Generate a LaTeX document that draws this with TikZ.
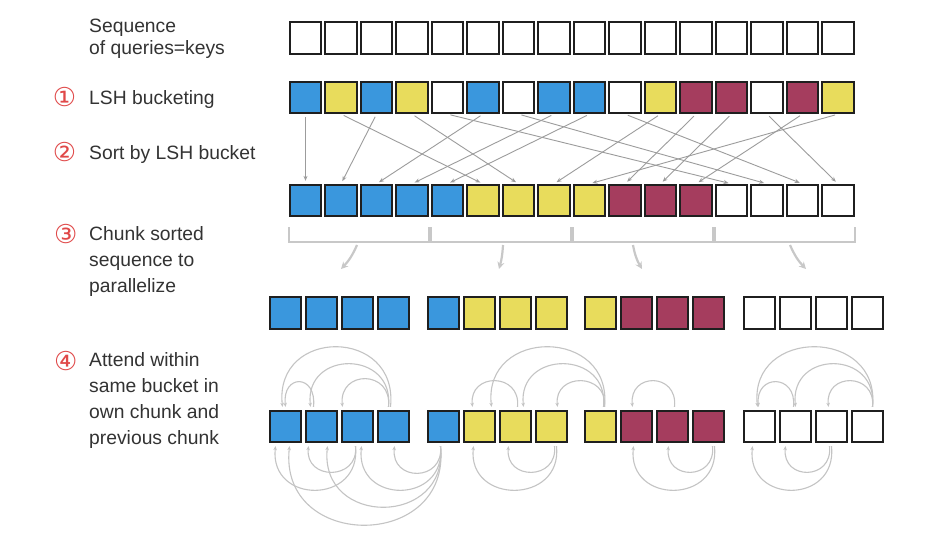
\documentclass[tikz,border=0pt]{standalone}
\usepackage{fontspec}
\setmainfont{Liberation Sans}
\newfontfamily\circfont{DejaVu Sans}
\usetikzlibrary{arrows.meta,calc}
\definecolor{qblue}{HTML}{3A97DD}
\definecolor{qyel}{HTML}{E8DC5C}
\definecolor{qmar}{HTML}{A53D5E}
\definecolor{qwh}{HTML}{FFFFFF}
\definecolor{txt}{HTML}{333333}
\definecolor{numred}{HTML}{E04848}
\definecolor{arrg}{HTML}{9C9C9C}
\definecolor{arcg}{HTML}{C4C4C4}
\definecolor{brkg}{HTML}{C8C8C8}
\newcommand\attT[5]{\draw[att] ([xshift=#2pt,yshift=3pt]e#1.north) .. controls +({0.14*#5},{-1.33*#5}) and +({-0.14*#5},{-1.33*#5}) .. ([xshift=#4pt,yshift=3pt]e#3.north);}
\newcommand\attB[5]{\draw[att] ([xshift=#2pt,yshift=-3pt]e#1.south) .. controls +({0.14*#5},{1.33*#5}) and +({-0.14*#5},{1.33*#5}) .. ([xshift=#4pt,yshift=-3pt]e#3.south);}
\begin{document}
\begin{tikzpicture}[x=1pt,y=-1pt,
 cell/.style={draw=black!88,line width=1.8pt,minimum width=31.5pt,minimum height=31.5pt,inner sep=0pt},
 lbl/.style={anchor=base west,inner sep=0pt,text=txt,font=\fontsize{19.3}{26}\selectfont},
 num/.style={inner sep=0pt,text=numred,font=\circfont\fontsize{26}{26}\selectfont},
 sortarr/.style={draw=arrg,line width=0.9pt,-{Stealth[length=5pt,width=4pt]},shorten <=3pt,shorten >=3pt},
 brk/.style={draw=brkg,line width=2pt},
 chunkarr/.style={draw=brkg,line width=2.2pt,-{Stealth[length=7pt,width=7pt]}},
 att/.style={draw=arcg,line width=1.1pt,-{Stealth[length=4pt,width=3.5pt]}}
]
\useasboundingbox (0,0) rectangle (947,548);
\fill[white] (0,0) rectangle (947,548);

% labels
\node[lbl] (l1a) at (89,33) {Sequence};
\node[lbl] (l1b) at (89,55) {of queries=keys};
\node[lbl] (l2) at (89,105) {LSH bucketing};
\node[lbl] (l3) at (89,160) {Sort by LSH bucket};
\node[lbl] (l4a) at (89,240.7) {Chunk sorted};
\node[lbl] (l4b) at (89,266.7) {sequence to};
\node[lbl] (l4c) at (89,292.7) {parallelize};
\node[lbl] (l5a) at (89,366.7) {Attend within};
\node[lbl] (l5b) at (89,392.7) {same bucket in};
\node[lbl] (l5c) at (89,418.5) {own chunk and};
\node[lbl] (l5d) at (89,444.3) {previous chunk};
\node[num] (n1) at (64.5,96.7) {①};
\node[num] (n2) at (64.5,151.7) {②};
\node[num] (n3) at (65.7,234) {③};
\node[num] (n4) at (65.7,361) {④};

% rows
\foreach \i in {0,...,15} \node[cell,fill=white] (a\i) at ({305.5+35.5*\i},38) {};
\foreach \c [count=\i from 0] in {qblue,qyel,qblue,qyel,qwh,qblue,qwh,qblue,qblue,qwh,qyel,qmar,qmar,qwh,qmar,qyel}
  \node[cell,fill=\c] (b\i) at ({305.5+35.5*\i},97.5) {};
\foreach \c [count=\i from 0] in {qblue,qblue,qblue,qblue,qblue,qyel,qyel,qyel,qyel,qmar,qmar,qmar,qwh,qwh,qwh,qwh}
  \node[cell,fill=\c] (c\i) at ({305.5+35.5*\i},200.5) {};
\foreach \c/\x [count=\i from 0] in {qblue/285.5,qblue/321.5,qblue/357.5,qblue/393.5,qblue/443.5,qyel/479.5,qyel/515.5,qyel/551.5,qyel/600.5,qmar/636.5,qmar/672.5,qmar/708.5,qwh/759.5,qwh/795.5,qwh/831.5,qwh/867.5}
  {\node[cell,fill=\c] (d\i) at (\x,313) {};
   \node[cell,fill=\c] (e\i) at (\x,426.5) {};}

% sort arrows
\foreach \i/\j in {0/0,1/5,2/1,3/6,4/12,5/2,6/13,7/3,8/4,9/14,10/7,11/9,12/10,13/15,14/11,15/8}
  \draw[sortarr] (b\i.south) -- (c\j.north);

% brackets
\foreach \g in {0,...,3}{
  \pgfmathtruncatemacro\l{4*\g}
  \pgfmathtruncatemacro\r{4*\g+3}
  \draw[brk] ([yshift=-10pt]c\l.south west) -- ([yshift=-25pt]c\l.south west) -- ([yshift=-25pt]c\r.south east) -- ([yshift=-10pt]c\r.south east);
}
\coordinate (s0) at (357,245);
\coordinate (t0) at (341,269);
\coordinate (s1) at (503,245);
\coordinate (t1) at (499,269);
\coordinate (s2) at (633,245);
\coordinate (t2) at (642,269);
\coordinate (s3) at (790,245);
\coordinate (t3) at (806,269);
\draw[chunkarr] (s0) to[bend left=10] (t0);
\draw[chunkarr] (s1) to[bend left=6] (t1);
\draw[chunkarr] (s2) to[bend right=10] (t2);
\draw[chunkarr] (s3) to[bend right=10] (t3);

% attention arcs above
\attT{1}{-8}{0}{0}{25}
\attT{3}{-5}{2}{-15}{28}
\attT{3}{-5}{1}{-11}{43}
\attT{3}{-3}{0}{-3}{60}
\attT{6}{2}{5}{-7}{26}
\attT{8}{4}{5}{12}{60}
\attT{8}{3}{6}{8}{43}
\attT{8}{4}{7}{6}{26}
\attT{10}{2}{9}{-4}{26}
\attT{13}{-2}{12}{-1}{25}
\attT{15}{5}{12}{-2}{60}
\attT{15}{5}{13}{0}{43}
\attT{15}{5}{14}{-3}{26}
% attention arcs below
\attB{2}{-2}{0}{-10}{44}
\attB{2}{-2}{1}{-13}{26}
\attB{4}{-3}{0}{4}{79}
\attB{4}{-3}{1}{6}{61}
\attB{4}{-3}{2}{4}{44}
\attB{4}{-3}{3}{1}{27}
\attB{7}{5}{5}{-6}{44}
\attB{7}{3}{6}{-7}{26}
\attB{11}{6}{9}{-3}{44}
\attB{11}{4}{10}{-4}{26}
\attB{14}{0}{12}{-7}{44}
\attB{14}{-2}{13}{-10}{26}
\end{tikzpicture}
\end{document}
